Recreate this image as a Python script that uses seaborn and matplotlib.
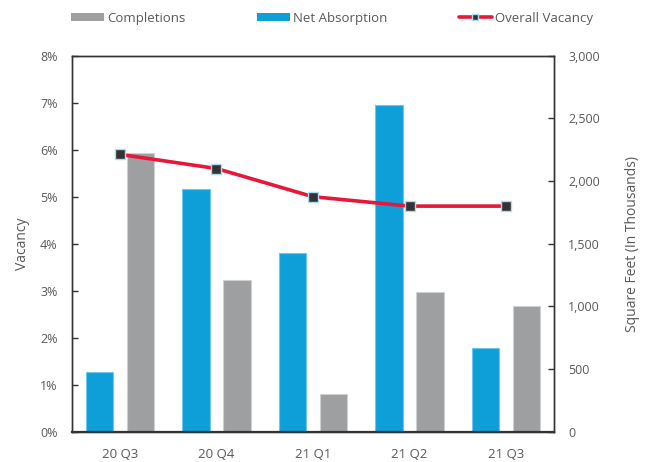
import matplotlib
matplotlib.use("Agg")
import matplotlib.pyplot as plt
from matplotlib.ticker import FuncFormatter, FixedLocator
from matplotlib.patches import Patch
from matplotlib.lines import Line2D
import numpy as np
import pandas as pd
import seaborn as sns

# Quarterly market data
quarters = ["20 Q3", "20 Q4", "21 Q1", "21 Q2", "21 Q3"]
net_absorption = [475, 1940, 1425, 2605, 665]      # sq ft, thousands
completions = [2225, 1210, 300, 1115, 1005]         # sq ft, thousands
overall_vacancy = [0.059, 0.056, 0.050, 0.048, 0.048]

BLUE = "#0e9fd9"
GRAY = "#9d9fa0"
RED = "#e8173a"
TEXT = "#595959"
SPINE = "#333333"

sns.set_theme(style="white")
plt.rcParams["font.family"] = ["Open Sans", "DejaVu Sans"]

bars = pd.DataFrame({
    "quarter": quarters * 2,
    "sqft": net_absorption + completions,
    "series": ["Net Absorption"] * len(quarters) + ["Completions"] * len(quarters),
})

fig = plt.figure(figsize=(6.47, 4.62), dpi=100)
ax = fig.add_axes([0.1108, 0.0656, 0.7459, 0.8138])
ax2 = ax.twinx()

# Bars on the right-hand (square feet) axis
sns.barplot(data=bars, x="quarter", y="sqft", hue="series",
            hue_order=["Net Absorption", "Completions"],
            palette={"Net Absorption": BLUE, "Completions": GRAY},
            width=0.85, gap=0.325, saturation=1, legend=False, ax=ax2)
for p in ax2.patches:
    fc = p.get_facecolor()
    p.set_edgecolor("#6cc6ee" if fc[2] > 0.8 else "#cfd0d1")
    p.set_linewidth(0.8)

# Vacancy line on the left-hand axis, drawn above the bars
sns.lineplot(x=quarters, y=overall_vacancy, ax=ax, color=RED, linewidth=2.6,
             marker="s", markersize=7, markerfacecolor="#333333",
             markeredgecolor="#a9dcf0", markeredgewidth=1.0, sort=False)
ax.set_zorder(ax2.get_zorder() + 1)
ax.patch.set_visible(False)

ax.set_xlim(-0.5, len(quarters) - 0.5)
ax.set_ylim(0, 0.08)
ax2.set_ylim(0, 3000)
ax.set_yticks(np.arange(0, 0.081, 0.01))
ax2.set_yticks(np.arange(0, 3001, 500))
ax.yaxis.set_major_formatter(FuncFormatter(lambda v, _: f"{v*100:.0f}%"))
ax2.yaxis.set_major_formatter(FuncFormatter(lambda v, _: f"{v:,.0f}"))

# Category labels centred, tick marks on the boundaries
ax.set_xticks(range(len(quarters)))
ax.set_xticklabels(quarters)
ax.xaxis.set_minor_locator(FixedLocator(np.arange(-0.5, len(quarters), 1.0)))
ax.tick_params(axis="x", which="major", length=0, pad=12, labelsize=9.5, labelcolor=TEXT)
ax.tick_params(axis="x", which="minor", direction="inout", length=7, width=1, color=SPINE)
ax.tick_params(axis="y", direction="in", length=4, width=1, color=SPINE,
               pad=10, labelsize=9, labelcolor=TEXT, left=True)
ax2.tick_params(axis="y", direction="in", length=4, width=1, color=SPINE,
                pad=10, labelsize=9, labelcolor=TEXT, right=True)
ax2.tick_params(axis="x", length=0)

ax.set_xlabel("")
ax2.set_xlabel("")
ax.set_ylabel("Vacancy", fontsize=10, color=TEXT, labelpad=7)
ax2.set_ylabel("Square Feet (In Thousands)", fontsize=10, color=TEXT, labelpad=18)

for a in (ax, ax2):
    for s in a.spines.values():
        s.set_visible(True)
        s.set_color(SPINE)
        s.set_linewidth(1.0)
ax.spines["bottom"].set_linewidth(1.6)

handles = [
    Patch(facecolor=GRAY, edgecolor="none", label="Completions"),
    Patch(facecolor=BLUE, edgecolor="none", label="Net Absorption"),
    Line2D([0], [0], color=RED, linewidth=2.6, marker="s", markersize=5,
           markerfacecolor="#333333", markeredgecolor="#a9dcf0", label="Overall Vacancy"),
]
leg = fig.legend(handles=handles, loc="center", bbox_to_anchor=(0.513, 0.961), ncol=3,
                 frameon=False, fontsize=9.5, handlelength=2.5, handleheight=0.6,
                 handletextpad=0.25, columnspacing=5.4)
for t in leg.get_texts():
    t.set_color(TEXT)

fig.savefig("out.png", dpi=100)
